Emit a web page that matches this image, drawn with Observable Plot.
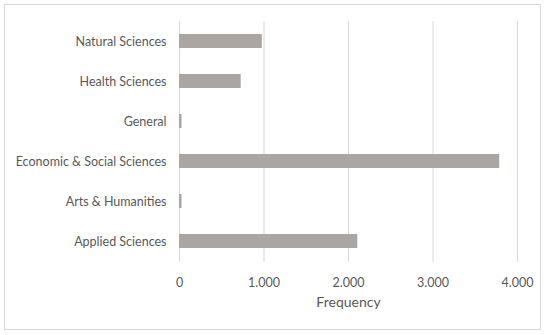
<!DOCTYPE html>
<html>
<head>
<meta charset="utf-8">
<script src="https://cdn.jsdelivr.net/npm/d3@7"></script>
<script src="https://cdn.jsdelivr.net/npm/@observablehq/plot@0.6"></script>
<style>
  html, body { margin: 0; padding: 0; background: #fff; }
  #wrap { position: relative; width: 550px; height: 335px; overflow: hidden; }
  #border { position: absolute; left: 4px; top: 4px; width: 535px; height: 324px; border: 1px solid #d9d9d9; pointer-events: none; }
  svg { position: absolute; left: 0; top: 0; }
</style>
</head>
<body>
<div id="wrap"><div id="border"></div></div>
<script>
const categories = ["Natural Sciences", "Health Sciences", "General", "Economic & Social Sciences", "Arts & Humanities", "Applied Sciences"];
const frequency = [980, 730, 30, 3790, 30, 2110];
const xTicks = [0, 1000, 2000, 3000, 4000];

const data = categories.map((c, i) => ({category: c, value: frequency[i]}));
const fmt = d3.formatLocale({decimal: ",", thousands: ".", grouping: [3], currency: ["", ""]}).format(",");

const chart = Plot.plot({
  width: 550,
  height: 335,
  marginLeft: 179,
  marginRight: 33,
  marginTop: 21,
  marginBottom: 73,
  style: {fontFamily: "Lato, 'Open Sans', sans-serif", fontSize: "12.5px", color: "#595959", background: "transparent"},
  x: {domain: [0, 4000], ticks: xTicks},
  y: {domain: categories, paddingInner: 0.64, paddingOuter: 0.32},
  marks: [
    Plot.gridX(xTicks, {stroke: "#d9d9d9", strokeOpacity: 1, strokeWidth: 1}),
    Plot.barX(data, {x: "value", y: "category", fill: "#aca6a3"}),
    Plot.axisX({ticks: xTicks, tickSize: 0, tickPadding: 16, tickFormat: fmt, label: null, fill: "#595959", fontSize: 12.5}),
    Plot.axisX({ticks: [], tickSize: 0, label: "Frequency", labelAnchor: "center", labelArrow: "none", labelOffset: 44, fill: "#595959", fontSize: 14}),
    Plot.axisY({tickSize: 0, tickPadding: 13, label: null, fill: "#595959", fontSize: 12.5})
  ]
});
chart.querySelectorAll("text").forEach(t => t.setAttribute("fill", "#595959"));
document.getElementById("wrap").appendChild(chart);
</script>
</body>
</html>
